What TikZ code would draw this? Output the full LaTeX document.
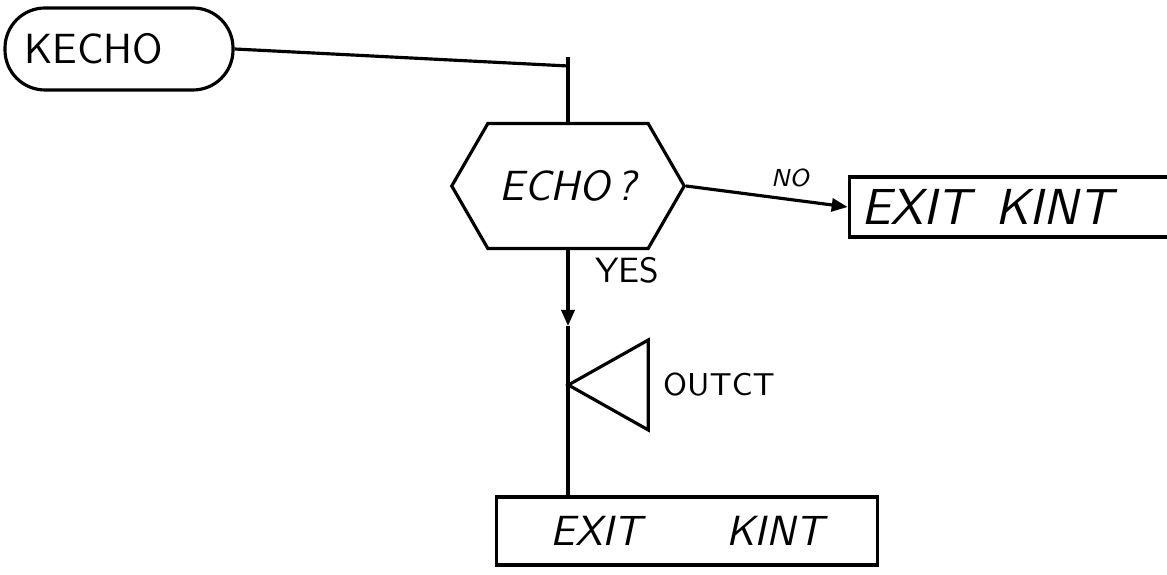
\documentclass[tikz,border=0pt]{standalone}
\usetikzlibrary{shapes.geometric,shapes.symbols,arrows.meta}
\begin{document}
\begin{tikzpicture}[x=0.1mm,y=-0.1mm,line width=0.9pt,
  termnl/.style={draw,rounded corners=4mm,minimum width=22.8mm,minimum height=8.2mm,
    text width=19mm,align=left,font=\sffamily\large},
  decide/.style={draw,signal,signal to=west and east,signal pointer angle=120,
    minimum width=22.6mm,minimum height=12.5mm,font=\sffamily\itshape\large},
  exitbox/.style={draw,minimum height=6mm,font=\sffamily\itshape\Large},
  connect/.style={draw,isosceles triangle,isosceles triangle stretches,
    shape border rotate=180,minimum width=9mm,minimum height=8mm,inner sep=0pt},
  lbl/.style={font=\sffamily},
  flow/.style={-{Triangle[length=1.6mm,width=1.3mm]}}]
\useasboundingbox (0,0) rectangle (1167,575);
% terminal and decision
\node[termnl] (kecho) at (119,49) {KECHO};
\node[decide] (echo) at (568,186) {ECHO\,?};
\coordinate (tee) at (568,66);
\coordinate (teetop) at (568,57);
\draw (kecho.east) -- (tee);
\draw (teetop) -- (echo.north);
% no branch
\node[exitbox,text width=32mm,align=left] (exitno) at (1021,207) {EXIT\enspace KINT};
\draw[flow] (echo.east) -- (exitno.west);
\node[lbl,font=\sffamily\itshape\scriptsize] (nolbl) at (790,178) {NO};
% yes branch
\coordinate (yesmid) at (568,326);
\draw[flow] (echo.south) -- (yesmid);
\node[lbl] (yeslbl) at (627,270) {YES};
\node[connect,label={[lbl,font=\sffamily\small]right:OUTCT}] (outct) at (622,385) {};
\node[exitbox,minimum width=38.1mm,minimum height=6.8mm,font=\sffamily\itshape\large]
  (exityes) at (687,531) {EXIT\quad\quad KINT};
\draw (yesmid) -- (yesmid |- exityes.north);
\end{tikzpicture}
\end{document}
